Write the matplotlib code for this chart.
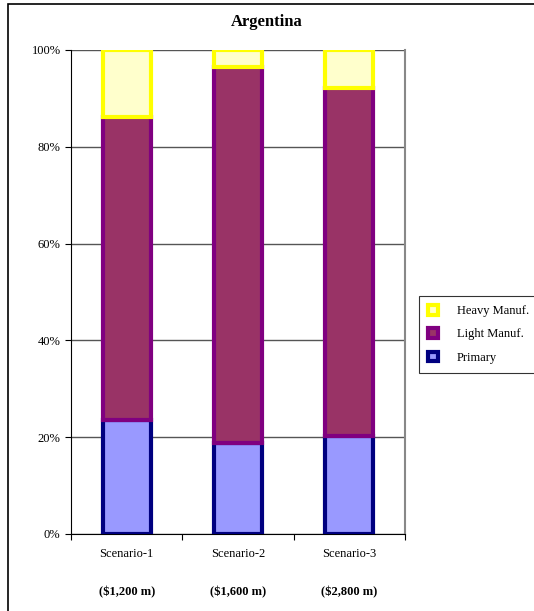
import numpy as np
import matplotlib.pyplot as plt
from matplotlib.patches import Rectangle

plt.rcParams['font.family'] = ['Liberation Serif', 'DejaVu Serif']

scenarios = ['Scenario-1', 'Scenario-2', 'Scenario-3']
totals = ['($1,200 m)', '($1,600 m)', '($2,800 m)']
primary = [23.5, 18.8, 20.3]
light = [62.7, 77.7, 71.8]
heavy = [13.8, 3.5, 7.9]

fig = plt.figure(figsize=(5.34, 6.11), dpi=100)
ax = fig.add_axes([71/534, 77/611, 334/534, 484/611])

# outer chart border (runs off the right and bottom edges)
fig.patches.append(Rectangle((8/534, -0.05), 1.1, (607/611) + 0.05, transform=fig.transFigure,
                             fill=False, edgecolor='black', linewidth=1.2))

x = np.arange(len(scenarios))
w = 0.43
series = [
    ('Primary', primary, '#9999FF', '#000080'),
    ('Light Manuf.', light, '#993366', '#800080'),
    ('Heavy Manuf.', heavy, '#FFFFCC', '#FFFF00'),
]
bottom = np.zeros(len(scenarios))
handles = []
for name, vals, fc, ec in series:
    b = ax.bar(x, vals, w, bottom=bottom, color=fc, edgecolor=ec, linewidth=3, label=name, zorder=3)
    handles.append(b)
    bottom += np.array(vals)

ax.set_xlim(-0.5, 2.5)
ax.set_ylim(0, 100)
ax.set_yticks(np.arange(0, 101, 20))
ax.set_yticklabels([f'{v}%' for v in range(0, 101, 20)], fontsize=9)
ax.yaxis.grid(True, color='#555555', linewidth=1)
ax.set_axisbelow(True)

ax.set_xticks([-0.5, 0.5, 1.5, 2.5])
ax.set_xticklabels([])
ax.set_xticks(x, minor=True)
ax.set_xticklabels(scenarios, minor=True, fontsize=9)
ax.tick_params(axis='x', which='minor', length=0, pad=10)
ax.tick_params(axis='x', which='major', length=4, direction='out')
ax.tick_params(axis='y', length=4, direction='out')

for side in ['top']:
    ax.spines[side].set_visible(False)
ax.spines['right'].set_color('#888888')
ax.spines['right'].set_linewidth(1.5)

for xi, t in zip(x, totals):
    ax.text(xi, -12, t, ha='center', va='center', fontsize=9, fontweight='bold',
            transform=ax.transData, clip_on=False)

fig.text(267/534, 1 - 22/611, 'Argentina', ha='center', va='center', fontsize=12, fontweight='bold')

leg = fig.legend([handles[2], handles[1], handles[0]], ['Heavy Manuf.', 'Light Manuf.', 'Primary'],
                 loc='upper left', bbox_to_anchor=(413/534, 1 - 290/611), fontsize=9,
                 frameon=True, fancybox=False, edgecolor='black', handlelength=0.8, handleheight=0.8,
                 borderpad=0.7, labelspacing=0.9, handletextpad=1.5)
leg.get_frame().set_linewidth(0.8)

fig.savefig('out.png', dpi=100)
